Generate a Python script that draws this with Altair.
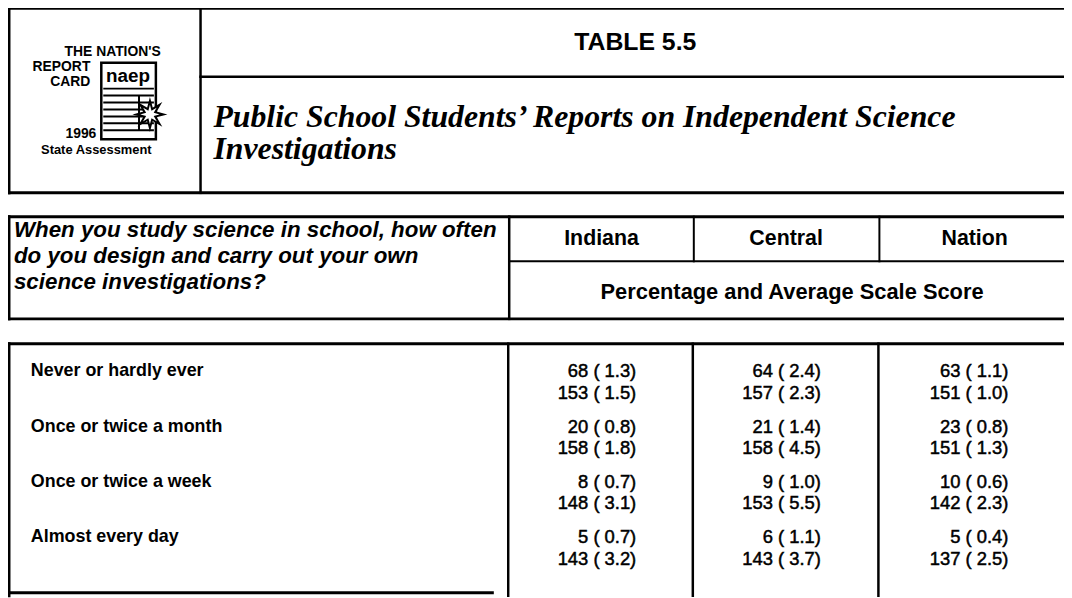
import math
import altair as alt
import pandas as pd

# ---------------- data ----------------
states = ["Indiana", "Central", "Nation"]
responses = ["Never or hardly ever", "Once or twice a month",
             "Once or twice a week", "Almost every day"]

indiana_pct = [68, 20, 8, 5]
indiana_pct_se = [1.3, 0.8, 0.7, 0.7]
indiana_score = [153, 158, 148, 143]
indiana_score_se = [1.5, 1.8, 3.1, 3.2]

central_pct = [64, 21, 9, 6]
central_pct_se = [2.4, 1.4, 1.0, 1.1]
central_score = [157, 158, 153, 143]
central_score_se = [2.3, 4.5, 5.5, 3.7]

nation_pct = [63, 23, 10, 5]
nation_pct_se = [1.1, 0.8, 0.6, 0.4]
nation_score = [151, 151, 142, 137]
nation_score_se = [1.0, 1.3, 2.3, 2.5]

table_title = "TABLE 5.5"
subtitle_lines = ["Public School Students\u2019 Reports on Independent Science",
                  "Investigations"]
question_lines = ["When you study science in school, how often",
                  "do you design and carry out your own",
                  "science investigations?"]
measure_label = "Percentage and Average Scale Score"
logo_right_lines = ["THE NATION'S", "REPORT", "CARD", "1996"]
logo_bottom = "State Assessment"
logo_badge = "naep"

# ---------------- layout (image pixel coordinates) ----------------
W, H = 1072, 598
SANS = "Liberation Sans"
SERIF = "Liberation Serif"

X = alt.X("x:Q", scale=alt.Scale(domain=[0, W], range=[-8, W - 8], nice=False, zero=False), axis=None)
Y = alt.Y("y:Q", scale=alt.Scale(domain=[0, H], range=[-8, H - 8], nice=False, zero=False), axis=None)

col_edges = [513, 699, 886, W]
col_right = [641, 827, 1016]
col_center = [606, 792, 982]
row_y0 = 372
row_step = 55.5
line_gap = 22

# grid lines: (x, x2, y, y2, width)
segs = [
    (9, W, 6, 6, 3), (9, W, 192, 192, 3), (9, 9, 6, 192, 3),
    (202, 202, 6, 192, 2.5), (202, W, 75, 75, 2.5),
    (9, W, 216, 216, 3), (9, W, 319, 319, 3), (9, 9, 216, 319, 3),
    (col_edges[0], col_edges[0], 216, 319, 2.5),
    (col_edges[0], W, 261, 261, 2),
    (col_edges[1], col_edges[1], 216, 261, 2),
    (col_edges[2], col_edges[2], 216, 261, 2),
    (9, W, 344, 344, 3), (9, 9, 344, H, 3),
    (col_edges[0] - 1, col_edges[0] - 1, 344, H, 2.5),
    (col_edges[1] - 1, col_edges[1] - 1, 344, H, 2.5),
    (col_edges[2] - 1, col_edges[2] - 1, 344, H, 2.5),
    (9, 496, 595, 595, 3),
]
lines_df = pd.DataFrame(segs, columns=["x", "x2", "y", "y2", "w"])
lines = alt.Chart(lines_df).mark_rule(color="black", strokeCap="square").encode(
    x=X, x2="x2:Q", y=Y, y2="y2:Q",
    strokeWidth=alt.StrokeWidth("w:Q", scale=None))


def text_layer(rows, **kw):
    df = pd.DataFrame(rows, columns=["x", "y", "t"])
    return alt.Chart(df).mark_text(color="black", baseline="middle", **kw).encode(
        x=X, y=Y, text="t:N")


# titles
title = text_layer([(640, 40, table_title)], font=SANS, fontSize=25,
                   fontWeight="bold", align="center")
subtitle = text_layer([(215, 116 + 32 * i, s) for i, s in enumerate(subtitle_lines)],
                      font=SERIF, fontSize=32, fontWeight="bold",
                      fontStyle="italic", align="left")
question = text_layer([(14, 230 + 26 * i, s) for i, s in enumerate(question_lines)],
                      font=SANS, fontSize=22.5, fontWeight="bold",
                      fontStyle="italic", align="left")
heads = text_layer([(col_center[i], 239, s) for i, s in enumerate(states)],
                   font=SANS, fontSize=21.5, fontWeight="bold", align="center")
measure = text_layer([(798, 292, measure_label)], font=SANS, fontSize=22,
                     fontWeight="bold", align="center")
labels = text_layer([(31, row_y0 + row_step * i, s) for i, s in enumerate(responses)],
                    font=SANS, fontSize=18, fontWeight="bold", align="left")

series = [
    (indiana_pct, indiana_pct_se, indiana_score, indiana_score_se),
    (central_pct, central_pct_se, central_score, central_score_se),
    (nation_pct, nation_pct_se, nation_score, nation_score_se),
]
num_rows = []
for c, (p, pse, s, sse) in enumerate(series):
    for r in range(len(responses)):
        y = row_y0 + row_step * r
        num_rows.append((col_right[c], y, f"{p[r]} ( {pse[r]:.1f})"))
        num_rows.append((col_right[c], y + line_gap, f"{s[r]} ( {sse[r]:.1f})"))
numbers = text_layer(num_rows, font=SANS, fontSize=18.5, fontWeight="normal",
                     align="right", stroke="black", strokeWidth=0.5)

# logo
logo_pos = [(162, 50), (91, 65), (91, 80), (97, 133)]
logo_txt = text_layer([(x, y, t) for (x, y), t in zip(logo_pos, logo_right_lines)],
                      font=SANS, fontSize=14, fontWeight="bold", align="right")
logo_txt2 = text_layer([(97, 149, logo_bottom)], font=SANS, fontSize=13,
                       fontWeight="bold", align="center")
badge_box = alt.Chart(pd.DataFrame([(102, 157, 61, 138)], columns=["x", "x2", "y", "y2"])
                      ).mark_rect(fill="white", stroke="black", strokeWidth=2.5).encode(
    x=X, x2="x2:Q", y=Y, y2="y2:Q")
badge_txt = text_layer([(129, 74, logo_badge)], font=SANS, fontSize=19,
                       fontWeight="bold", align="center")
badge_lines_df = pd.DataFrame(
    [(104, 155, y, y, 2) for y in (87, 94, 101, 108, 115, 122, 129)] +
    [(140, 140, 94, 129, 2)],
    columns=["x", "x2", "y", "y2", "w"])
badge_lines = alt.Chart(badge_lines_df).mark_rule(color="black").encode(
    x=X, x2="x2:Q", y=Y, y2="y2:Q", strokeWidth=alt.StrokeWidth("w:Q", scale=None))

# star glyph as a custom symbol path (8 points)
pts = []
for k in range(16):
    r = 1.0 if k % 2 == 0 else 0.42
    a = math.pi * k / 8 - math.pi / 2
    pts.append(f"{r * math.cos(a):.3f},{r * math.sin(a):.3f}")
STAR = "M" + " L".join(pts) + " Z"
star = alt.Chart(pd.DataFrame([(151, 113)], columns=["x", "y"])).mark_point(
    shape=STAR, filled=True, fill="white", stroke="black", strokeWidth=2,
    size=750, opacity=1).encode(x=X, y=Y)

chart = alt.layer(
    lines, badge_box, badge_lines, star, badge_txt, logo_txt, logo_txt2,
    title, subtitle, question, heads, measure, labels, numbers,
).properties(
    width=W - 8, height=H - 8, padding=0,
    autosize=alt.AutoSizeParams(type="none"), background="white",
).configure_view(stroke=None)

chart.save("out.html", embed_options={"renderer": "svg", "actions": False})
